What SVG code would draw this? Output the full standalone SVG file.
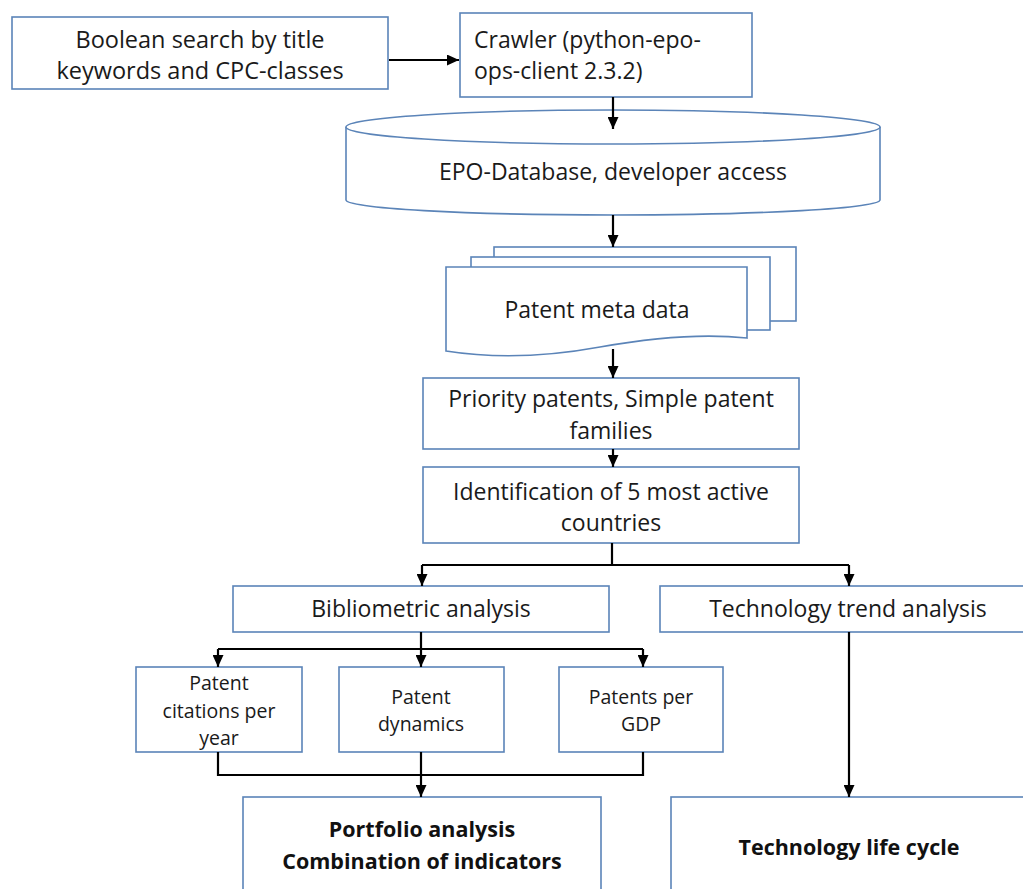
<svg xmlns="http://www.w3.org/2000/svg" width="1023" height="889" viewBox="0 0 1023 889">
<style>
.box{fill:#fff;stroke:#5b84b8;stroke-width:1.6}
.t{font-family:"Open Sans","Liberation Sans",sans-serif;font-size:23px;fill:#1a1a1a;text-anchor:middle}
.s{font-family:"Open Sans","Liberation Sans",sans-serif;font-size:19.5px;fill:#1a1a1a;text-anchor:middle}
.b{font-family:"Open Sans","Liberation Sans",sans-serif;font-size:21.5px;font-weight:bold;fill:#111;text-anchor:middle}
.c{fill:none;stroke:#000;stroke-width:2.2}
</style>
<defs>
<marker id="ah" markerUnits="userSpaceOnUse" markerWidth="12" markerHeight="11" viewBox="0 0 12 11" refX="12" refY="5.5" orient="auto">
<path d="M0,0 L12,5.5 L0,11 Z" fill="#000"/>
</marker>
</defs>
<rect width="1023" height="889" fill="#fff"/>

<g id="n-search">
<rect class="box" x="12" y="17" width="376" height="72"/>
<text class="t" x="200" y="48" style="font-size:23.5px">Boolean search by title</text>
<text class="t" x="200" y="79" style="font-size:23.5px">keywords and CPC-classes</text>
</g>

<g id="n-crawler">
<rect class="box" x="460" y="13" width="292" height="84"/>
<text class="t" x="474" y="48" style="text-anchor:start">Crawler (python-epo-</text>
<text class="t" x="474" y="79" style="text-anchor:start">ops-client 2.3.2)</text>
</g>

<g id="n-epo">
<path class="box" d="M346,127 V200 A267,15 0 0 0 880,200 V127"/>
<ellipse class="box" cx="613" cy="127" rx="267" ry="17"/>
<text class="t" x="613" y="180">EPO-Database, developer access</text>
</g>

<g id="n-meta">
<rect class="box" x="494" y="247" width="302" height="74"/>
<rect class="box" x="471" y="257" width="299" height="73"/>
<path class="box" d="M446,267 H747 V338 C700,333 650,338 600,347 C540,358 490,358 446,351 Z"/>
<text class="t" x="597" y="318">Patent meta data</text>
</g>

<g id="n-priority">
<rect class="box" x="423" y="378" width="376" height="71"/>
<text class="t" x="611" y="407">Priority patents, Simple patent</text>
<text class="t" x="611" y="439">families</text>
</g>

<g id="n-ident">
<rect class="box" x="423" y="467" width="376" height="76"/>
<text class="t" x="611" y="500">Identification of 5 most active</text>
<text class="t" x="611" y="531">countries</text>
</g>

<g id="n-biblio">
<rect class="box" x="233" y="586" width="376" height="46"/>
<text class="t" x="421" y="617">Bibliometric analysis</text>
</g>

<g id="n-trend">
<rect class="box" x="660" y="586" width="380" height="46"/>
<text class="t" x="848" y="617">Technology trend analysis</text>
</g>

<g id="n-citations">
<rect class="box" x="136" y="667" width="166" height="85"/>
<text class="s" x="219" y="690">Patent</text>
<text class="s" x="219" y="718">citations per</text>
<text class="s" x="219" y="745">year</text>
</g>

<g id="n-dynamics">
<rect class="box" x="339" y="667" width="165" height="85"/>
<text class="s" x="421" y="704">Patent</text>
<text class="s" x="421" y="731">dynamics</text>
</g>

<g id="n-gdp">
<rect class="box" x="559" y="667" width="164" height="85"/>
<text class="s" x="641" y="704">Patents per</text>
<text class="s" x="641" y="731">GDP</text>
</g>

<g id="n-portfolio">
<rect class="box" x="243" y="797" width="358" height="110"/>
<text class="b" x="422" y="837">Portfolio analysis</text>
<text class="b" x="422" y="869">Combination of indicators</text>
</g>

<g id="n-lifecycle">
<rect class="box" x="671" y="797" width="370" height="110"/>
<text class="b" x="849" y="855">Technology life cycle</text>
</g>

<g id="connectors">
<line class="c" x1="389" y1="60" x2="459" y2="60" marker-end="url(#ah)"/>
<line class="c" x1="613" y1="97" x2="613" y2="129" marker-end="url(#ah)"/>
<line class="c" x1="613" y1="215" x2="613" y2="247" marker-end="url(#ah)"/>
<line class="c" x1="613" y1="349" x2="613" y2="378" marker-end="url(#ah)"/>
<line class="c" x1="613" y1="449" x2="613" y2="467" marker-end="url(#ah)"/>
<polyline class="c" points="612,543 612,565"/>
<polyline class="c" points="422,565 849,565"/>
<line class="c" x1="422" y1="565" x2="422" y2="586" marker-end="url(#ah)"/>
<line class="c" x1="849" y1="565" x2="849" y2="586" marker-end="url(#ah)"/>
<line class="c" x1="421" y1="632" x2="421" y2="649"/>
<polyline class="c" points="218,649 643,649"/>
<line class="c" x1="218" y1="649" x2="218" y2="667" marker-end="url(#ah)"/>
<line class="c" x1="421" y1="649" x2="421" y2="667" marker-end="url(#ah)"/>
<line class="c" x1="643" y1="649" x2="643" y2="667" marker-end="url(#ah)"/>
<polyline class="c" points="218,752 218,775 643,775 643,752"/>
<line class="c" x1="421" y1="752" x2="421" y2="797" marker-end="url(#ah)"/>
<line class="c" x1="849" y1="632" x2="849" y2="797" marker-end="url(#ah)"/>
</g>
</svg>
